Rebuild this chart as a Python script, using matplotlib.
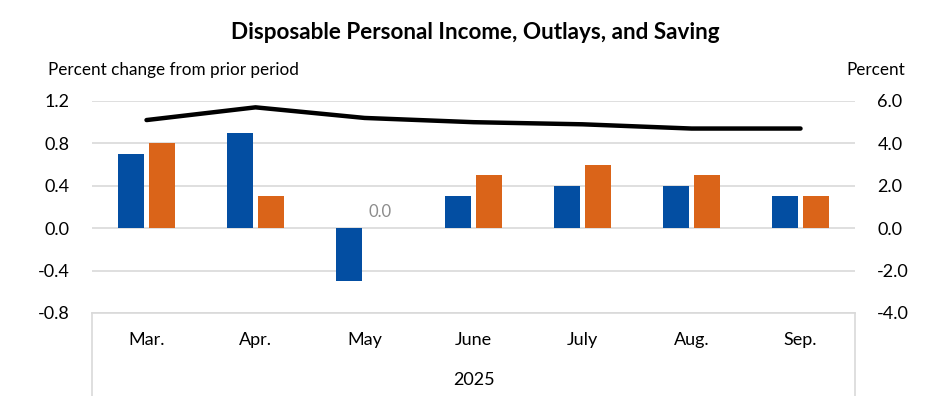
import matplotlib.pyplot as plt
import numpy as np

plt.rcParams['font.family'] = ['Lato', 'DejaVu Sans']

months = ['Mar.', 'Apr.', 'May', 'June', 'July', 'Aug.', 'Sep.']
dpi_change = [0.7, 0.9, -0.5, 0.3, 0.4, 0.4, 0.3]      # disposable personal income
outlays_change = [0.8, 0.3, 0.0, 0.5, 0.6, 0.5, 0.3]   # personal outlays
saving_rate = [5.1, 5.7, 5.2, 5.0, 4.9, 4.7, 4.7]      # saving rate, right axis

blue = '#034EA2'
orange = '#DA6419'
grid_c = '#D9D9D9'

fig = plt.figure(figsize=(9.36, 3.96), dpi=100)
ax = fig.add_axes([0.0983, 0.2096, 0.8152, 0.5354])
ax2 = ax.twinx()

x = np.arange(len(months))
w = 0.24
ax.bar(x - 0.142, dpi_change, w, color=blue, zorder=3)
ax.bar(x + 0.142, outlays_change, w, color=orange, zorder=3)

# zero-value label
for i, v in enumerate(outlays_change):
    if v == 0:
        ax.text(x[i] + 0.142, 0.15, '0.0', ha='center', va='center', fontsize=12, color='#8C8C8C')

ax2.plot(x, saving_rate, color='black', lw=3.2, solid_capstyle='round', zorder=4)

ax.set_xlim(-0.5, len(months) - 0.5)
ax.set_ylim(-0.8, 1.2)
ax.set_yticks(np.arange(-0.8, 1.21, 0.4))
ax.set_yticklabels([f'{v:.1f}' for v in np.arange(-0.8, 1.21, 0.4)])
ax2.set_ylim(-4, 6)
ax2.set_yticks(np.arange(-4, 6.1, 2))
ax2.set_yticklabels([f'{v:.1f}' for v in np.arange(-4, 6.1, 2)])

ax.yaxis.grid(True, color=grid_c, lw=1.2, zorder=0)
ax.set_axisbelow(True)
for a in (ax, ax2):
    for s in ['top', 'left', 'right', 'bottom']:
        a.spines[s].set_visible(False)
    a.tick_params(length=0, labelsize=13)
ax.tick_params(axis='y', pad=16)
ax2.tick_params(axis='y', pad=16)
ax.set_xticks([])

# category box below the plot (Excel-style multi-level axis)
fig.add_artist(plt.Line2D([0.0983, 0.9135], [0.2096, 0.2096], color=grid_c, lw=1.2))
fig.add_artist(plt.Line2D([0.0983, 0.0983], [0.0, 0.2096], color=grid_c, lw=1.2))
fig.add_artist(plt.Line2D([0.9135, 0.9135], [0.0, 0.2096], color=grid_c, lw=1.2))
for i, m in enumerate(months):
    ax.text(x[i], -1.05, m, ha='center', va='center', fontsize=13)
ax.text(3, -1.43, '2025', ha='center', va='center', fontsize=13)

fig.text(0.508, 0.918, 'Disposable Personal Income, Outlays, and Saving',
         ha='center', va='center', fontsize=16.2, fontweight='bold')
fig.text(0.051, 0.822, 'Percent change from prior period', ha='left', va='center', fontsize=12.3)
fig.text(0.967, 0.822, 'Percent', ha='right', va='center', fontsize=12.3)

fig.savefig('out.png', dpi=100, facecolor='white')
